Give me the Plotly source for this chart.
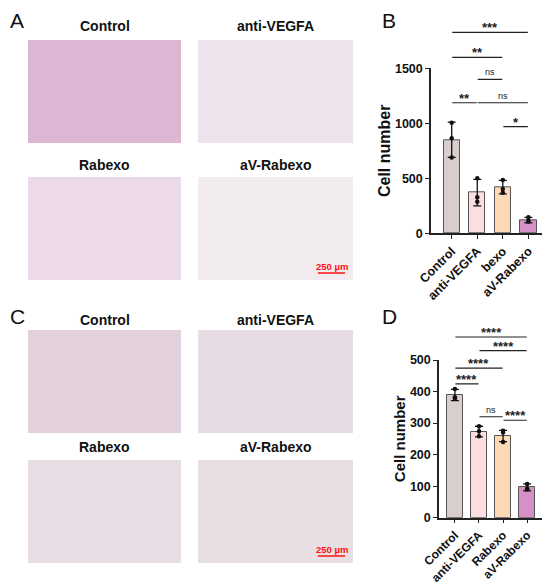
import plotly.graph_objects as go

# reference size in px; the page body adds an 8px margin, so the figure is 8px smaller
# and every px position is shifted by that margin
W, H = 550, 584
PAD = 8

# panel B: transwell counts, first experiment (label of 3rd bar is cut in the source, only "bexo" shows)
groups_b = ["Control", "anti-VEGFA", "bexo", "aV-Rabexo"]
mean_b = [850, 370, 420, 120]
sd_b = [160, 120, 62, 25]
dots_b = [[1005, 865, 690], [500, 327, 287], [485, 403, 369], [145, 108, 112]]
sig_b_from = [0, 0, 1, 0, 1, 2]
sig_b_to = [3, 2, 2, 1, 3, 3]
sig_b_y = [1827, 1600, 1400, 1187, 1187, 969]
sig_b_text = ["***", "**", "ns", "**", "ns", "*"]

# panel D: second experiment
groups_d = ["Control", "anti-VEGFA", "Rabexo", "aV-Rabexo"]
mean_d = [389, 273, 259, 96]
sd_d = [18, 17, 18, 11]
dots_d = [[408, 382, 378], [290, 274, 258], [276, 270, 240], [107, 92, 90]]
sig_d_from = [0, 1, 0, 0, 1, 2]
sig_d_to = [3, 3, 2, 1, 2, 3]
sig_d_y = [573, 530, 474, 424, 320, 309]
sig_d_text = ["****", "****", "****", "****", "ns", "****"]

bar_colors = ["#dacdcd", "#fcdde0", "#fdd9b5", "#d591c7"]

# micrograph panels (A and C) can only be shown as flat tiles
photo_titles = ["Control", "anti-VEGFA", "Rabexo", "aV-Rabexo"]
photo_tone_a = ["#dcb6d3", "#eee2ec", "#ecdaea", "#f2ecf0"]
photo_tone_c = ["#e2d0dd", "#e7dce4", "#e8dde4", "#e8dfe5"]

FONT = "Liberation Sans, Arial, sans-serif"


def fx(p):
    return (p - PAD) / (W - PAD)


def fy(p):
    return 1 - (p - PAD) / (H - PAD)


fig = go.Figure()
shapes = []
annotations = []


def paper_text(txt, x, y, font, yanchor="middle"):
    annotations.append(dict(text=txt, x=fx(x), y=fy(y), xref="paper", yref="paper",
                            xanchor="center", yanchor=yanchor, showarrow=False, font=font,
                            borderpad=0))


def photos(tones, top1, top2, title1, title2):
    # 2x2 grid of image tiles with titles above
    cols = [(28, 181), (198, 353)]
    rows = [(top1, top1 + 103, title1), (top2, top2 + 103, title2)]
    k = 0
    for r0, r1, ty in rows:
        for c0, c1 in cols:
            shapes.append(dict(type="rect", xref="paper", yref="paper",
                               x0=fx(c0), x1=fx(c1), y0=fy(r1), y1=fy(r0),
                               fillcolor=tones[k], line=dict(width=0), layer="below"))
            paper_text(photo_titles[k], (c0 + c1) / 2, ty,
                       dict(family=FONT, size=14, color="#111", weight="bold"))
            k += 1
    # scale bar in last tile
    shapes.append(dict(type="line", xref="paper", yref="paper",
                       x0=fx(318), x1=fx(345), y0=fy(top2 + 96), y1=fy(top2 + 96),
                       line=dict(color="#ff1010", width=1.5)))
    paper_text("250 µm", 331.5, top2 + 89, dict(family=FONT, size=9.5, color="#ff1010", weight="bold"))


photos(photo_tone_a, 40, 177, 26, 165)
photos(photo_tone_c, 330, 460, 320, 447)
letter_font = dict(family=FONT, size=21, color="#111")
paper_text("A", 17, PAD, letter_font, yanchor="top")
paper_text("B", 389, PAD, letter_font, yanchor="top")
paper_text("C", 17, 316, letter_font)
paper_text("D", 389, 316, letter_font)


def bar_panel(xa, ya, yb, groups, means, sds, dots, s_from, s_to, s_y, s_text):
    xs = list(range(len(groups)))
    fig.add_trace(go.Bar(x=xs, y=means, width=0.64, xaxis=xa, yaxis=ya,
                         marker=dict(color=bar_colors, line=dict(color="#555", width=1)),
                         error_y=dict(type="data", array=sds, color="#111", thickness=1.3, width=4),
                         showlegend=False))
    px_, py_ = [], []
    for i, vals in enumerate(dots):
        px_ += [i] * len(vals)
        py_ += vals
    fig.add_trace(go.Scatter(x=px_, y=py_, mode="markers", xaxis=xa, yaxis=ya,
                             marker=dict(color="#111", size=4.5), showlegend=False, cliponaxis=False))
    lx, ly = [], []
    for a, b, y, t in zip(s_from, s_to, s_y, s_text):
        lx += [a + 0.02, b - 0.02, None]
        ly += [y, y, None]
        ns = t == "ns"
        annotations.append(dict(text=t, x=(a + b) / 2, y=y, xref=xa, yref=yb, showarrow=False,
                                xanchor="center", yanchor="bottom", yshift=0 if ns else -5,
                                font=dict(family=FONT, size=9 if ns else 13, color="#222",
                                          weight="normal" if ns else "bold")))
    fig.add_trace(go.Scatter(x=lx, y=ly, mode="lines", xaxis=xa, yaxis=yb,
                             line=dict(color="#222", width=1.2), showlegend=False, hoverinfo="skip"))


bar_panel("x", "y", "y3", groups_b, mean_b, sd_b, dots_b, sig_b_from, sig_b_to, sig_b_y, sig_b_text)
bar_panel("x2", "y2", "y4", groups_d, mean_d, sd_d, dots_d, sig_d_from, sig_d_to, sig_d_y, sig_d_text)

tickfont = dict(family=FONT, size=12.5, color="#111", weight="bold")
axis_common = dict(showgrid=False, zeroline=False, showline=True, linecolor="#222", linewidth=1.5,
                   ticks="outside", ticklen=4, tickwidth=1.4, tickcolor="#222", tickfont=tickfont,
                   automargin=False)

b_bot, b_top = 233.3, 68.3
d_bot, d_top = 517.7, 360
fig.update_layout(
    xaxis=dict(domain=[fx(431), fx(546)], range=[-0.81, 3.69], anchor="y",
               tickvals=list(range(4)), ticktext=groups_b, tickangle=-45, **axis_common),
    yaxis=dict(domain=[fy(b_bot), fy(b_top)], range=[0, 1500], anchor="x",
               tickvals=[0, 500, 1000, 1500],
               title=dict(text="Cell number", standoff=0,
                          font=dict(family=FONT, size=16, color="#111", weight="bold")),
               **axis_common),
    yaxis3=dict(domain=[fy(b_bot), fy(12)], range=[0, 1500 * (b_bot - 12) / (b_bot - b_top)],
                anchor="x", visible=False, automargin=False),
    xaxis2=dict(domain=[fx(439), fx(543.3)], range=[-0.66, 3.67], anchor="y2",
                tickvals=list(range(4)), ticktext=groups_d, tickangle=-45, **axis_common),
    yaxis2=dict(domain=[fy(d_bot), fy(d_top)], range=[0, 500], anchor="x2",
                tickvals=[0, 100, 200, 300, 400, 500],
                title=dict(text="Cell number", standoff=1,
                           font=dict(family=FONT, size=15, color="#111", weight="bold")),
                **axis_common),
    yaxis4=dict(domain=[fy(d_bot), fy(318)], range=[0, 500 * (d_bot - 318) / (d_bot - d_top)],
                anchor="x2", visible=False, automargin=False),
    width=W - PAD, height=H - PAD, margin=dict(l=0, r=0, t=0, b=0, autoexpand=False),
    paper_bgcolor="white", plot_bgcolor="rgba(0,0,0,0)",
    bargap=0, shapes=shapes, annotations=annotations,
)
fig.update_xaxes(tickfont_size=12, selector=dict(anchor="y2"))

fig.write_html("out.html")
